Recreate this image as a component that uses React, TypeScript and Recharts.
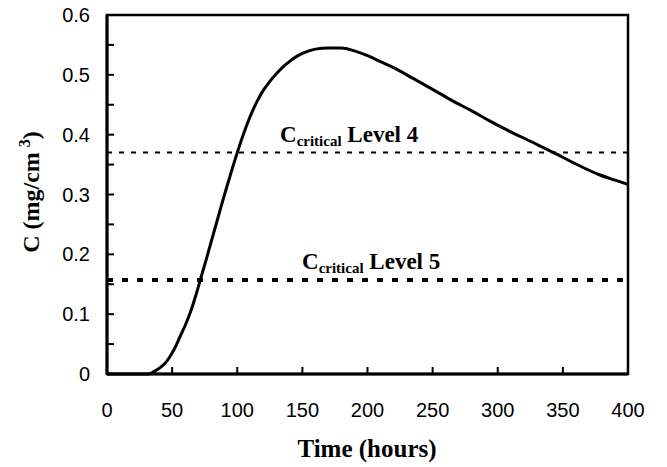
import { LineChart, Line, XAxis, YAxis, ReferenceLine, ReferenceArea } from 'recharts'

// concentration curve
const hours = [
  0, 30, 32, 36, 41, 45, 48, 52, 56, 60, 64, 68, 72, 76, 80, 84, 88, 92, 96,
  100, 104, 108, 112, 116, 120, 125, 130, 135, 140, 145, 150, 160, 170, 180, 190, 200,
  210, 220, 235, 253, 265, 279, 293, 307, 325, 343, 360, 378, 390, 400
]
const conc = [
  0, 0, 0, 0.004, 0.011, 0.019, 0.028, 0.043, 0.062, 0.081, 0.103, 0.13, 0.16, 0.19,
  0.221, 0.252, 0.283, 0.313, 0.342, 0.37, 0.396, 0.42, 0.441, 0.459, 0.474,
  0.489, 0.502, 0.513, 0.522, 0.53, 0.536, 0.543, 0.545, 0.545, 0.54, 0.532, 0.522, 0.512,
  0.494, 0.472, 0.457, 0.441, 0.424, 0.408, 0.389, 0.37, 0.351, 0.333, 0.324, 0.317
]

const level4 = 0.37
const level5 = 0.157

const xTicks = [0, 50, 100, 150, 200, 250, 300, 350, 400]
const yTicks = [0, 0.05, 0.1, 0.15, 0.2, 0.25, 0.3, 0.35, 0.4, 0.45, 0.5, 0.55, 0.6]

const data = hours.map((t, i) => ({ t, c: conc[i] }))

const serif = '"Liberation Serif", "Times New Roman", serif'
const sans = '"Liberation Sans", Arial, sans-serif'

const YTick = (props: any) => {
  const { x, y, payload } = props
  const v = payload.value
  const major = Math.round(v * 100) % 10 === 0
  return (
    <g>
      <line x1={x} y1={y} x2={x + 7} y2={y} stroke="#000" strokeWidth={2} />
      {major && (
        <text x={x - 17} y={y + 7} textAnchor="end" fontFamily={sans} fontSize={20} fill="#000">
          {v === 0 ? '0' : v.toFixed(1)}
        </text>
      )}
    </g>
  )
}

const XTick = (props: any) => {
  const { x, y, payload } = props
  return (
    <g>
      <line x1={x} y1={y} x2={x} y2={y - 7} stroke="#000" strokeWidth={2} />
      <text x={x} y={y + 43} textAnchor="middle" fontFamily={sans} fontSize={20} fill="#000">
        {payload.value}
      </text>
    </g>
  )
}

const levelLabel = (name: string, dx: number) => (props: any) => {
  const { viewBox } = props
  return (
    <text
      x={viewBox.x + dx}
      y={viewBox.y - 11}
      fontFamily={serif}
      fontWeight="bold"
      fontSize={23}
      fill="#000"
    >
      C
      <tspan fontSize={15} dy={4}>critical</tspan>
      <tspan dy={-4}> {name}</tspan>
    </text>
  )
}

export default function App() {
  return (
    <div style={{ position: 'absolute', left: 0, top: 0, background: '#fff' }}>
      <LineChart
        width={667}
        height={467}
        data={data}
        margin={{ top: 15, right: 39, bottom: 0, left: 0 }}
      >
        <XAxis
          dataKey="t"
          type="number"
          domain={[0, 400]}
          ticks={xTicks}
          tick={<XTick />}
          tickLine={false}
          tickSize={0}
          tickMargin={0}
          height={93}
          axisLine={{ stroke: '#000', strokeWidth: 3 }}
          label={{
            content: () => (
              <text x={367} y={457} textAnchor="middle" fontFamily={serif} fontWeight="bold" fontSize={25} fill="#000">
                Time (hours)
              </text>
            )
          }}
        />
        <YAxis
          type="number"
          domain={[0, 0.6]}
          ticks={yTicks}
          tick={<YTick />}
          tickLine={false}
          tickSize={0}
          tickMargin={0}
          width={107}
          interval={0}
          axisLine={{ stroke: '#000', strokeWidth: 3 }}
          label={{
            content: () => (
              <text
                x={39}
                y={192}
                transform="rotate(-90, 39, 192)"
                textAnchor="middle"
                fontFamily={serif}
                fontWeight="bold"
                fontSize={24}
                fill="#000"
              >
                C (mg/cm
                <tspan dx={5} dy={-9} fontSize={16}>3</tspan>
                <tspan dy={9}>)</tspan>
              </text>
            )
          }}
        />
        <ReferenceArea
          x1={0}
          x2={400}
          y1={0}
          y2={0.6}
          fill="none"
          stroke="#000"
          strokeWidth={2.5}
          ifOverflow="visible"
        />
        <ReferenceLine
          y={level4}
          stroke="#000"
          strokeWidth={2}
          strokeDasharray="5 7"
          label={{ content: levelLabel('Level 4', 173) }}
        />
        <ReferenceLine
          y={level5}
          stroke="#000"
          strokeWidth={4}
          strokeDasharray="6 9"
          label={{ content: levelLabel('Level 5', 195) }}
        />
        <Line
          type="monotone"
          dataKey="c"
          stroke="#000"
          strokeWidth={3}
          dot={false}
          isAnimationActive={false}
        />
      </LineChart>
    </div>
  )
}
